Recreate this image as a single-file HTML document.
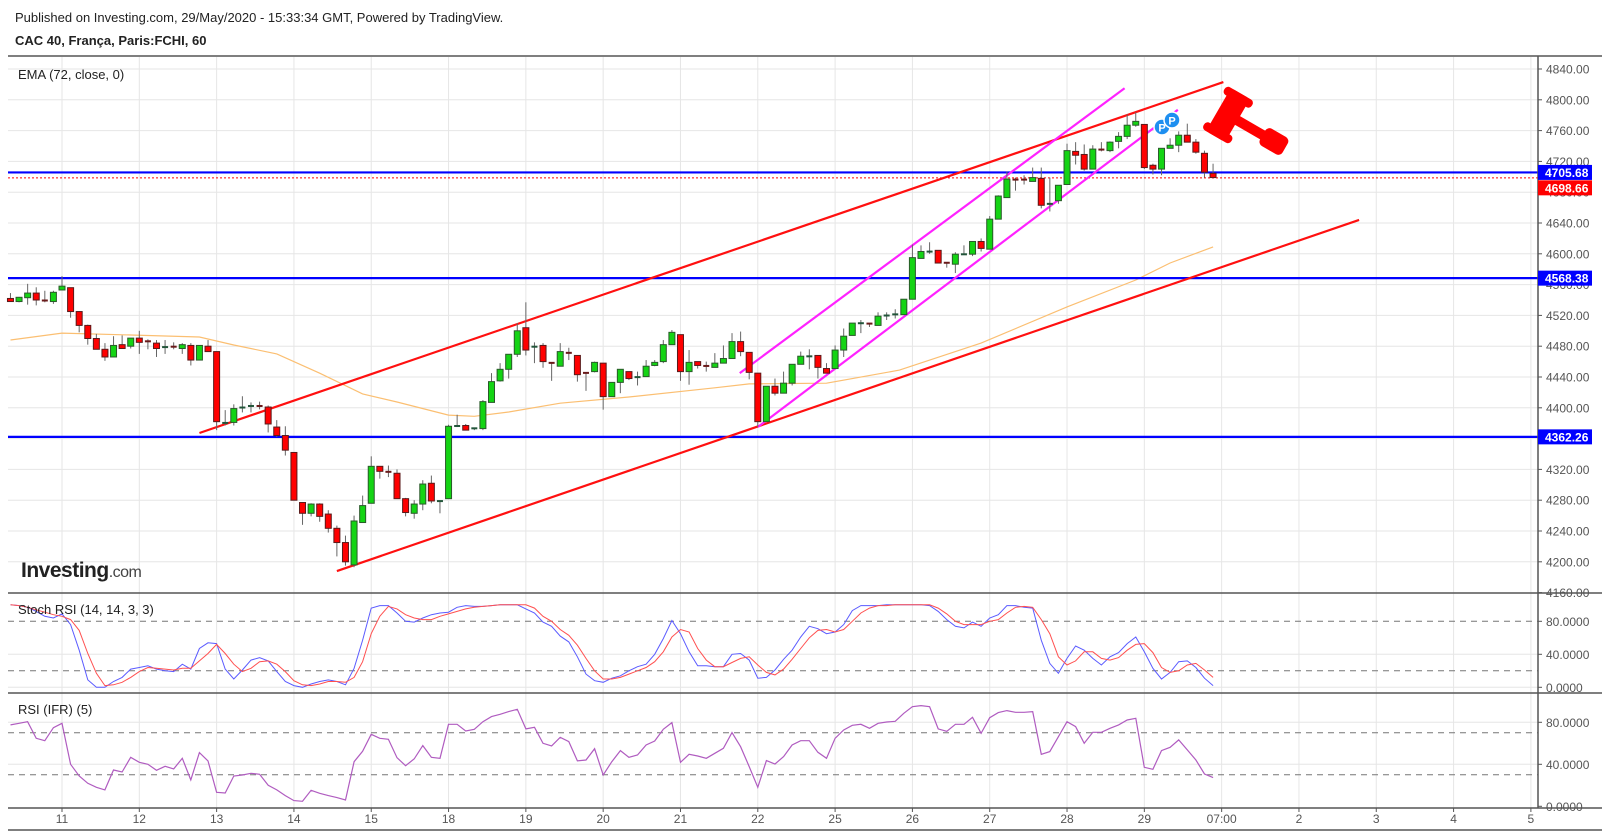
<!DOCTYPE html>
<html><head><meta charset="utf-8"><title>CAC 40 chart</title>
<style>
html,body{margin:0;padding:0;background:#fff;}
body{width:1602px;height:832px;overflow:hidden;font-family:"Liberation Sans",sans-serif;}
svg text{font-family:"Liberation Sans",sans-serif;}
</style></head>
<body>
<svg id="chart" width="1602" height="832" viewBox="0 0 1602 832" xmlns="http://www.w3.org/2000/svg">
<text x="15" y="22" font-size="13" fill="#222">Published on Investing.com, 29/May/2020 - 15:33:34 GMT, Powered by TradingView.</text>
<text x="15" y="45" font-size="13" font-weight="bold" fill="#222">CAC 40, França, Paris:FCHI, 60</text>
<g id="grid"></g>
<g id="drawings"></g>
<g id="candles"></g>
<g id="sub"></g>
<g id="axes"></g>
<text x="18" y="79" font-size="13" fill="#222">EMA (72, close, 0)</text>
<text x="18" y="614" font-size="13" fill="#222">Stoch RSI (14, 14, 3, 3)</text>
<text x="18" y="714" font-size="13" fill="#222">RSI (IFR) (5)</text>
<text x="21" y="577" font-size="21" font-weight="bold" fill="#222" letter-spacing="-0.5">Investing<tspan font-weight="normal" font-size="16" fill="#444">.com</tspan></text>
<g>
<circle cx="1162" cy="127" r="8" fill="#1e8ff0" stroke="#fff" stroke-width="1.5"/>
<text x="1162" y="131.5" font-size="11" font-weight="bold" fill="#fff" text-anchor="middle">P</text>
<circle cx="1172" cy="120" r="8" fill="#1e8ff0" stroke="#fff" stroke-width="1.5"/>
<text x="1172" y="124.5" font-size="11" font-weight="bold" fill="#fff" text-anchor="middle">P</text>
</g>
<g transform="translate(1228,115) rotate(30)" fill="#ff0000">
<rect x="-11" y="-25" width="22" height="50" rx="4"/>
<rect x="-16" y="-25" width="32" height="9" rx="4"/>
<rect x="-16" y="16" width="32" height="9" rx="4"/>
<rect x="8" y="-5" width="40" height="10"/>
<rect x="40" y="-10" width="26" height="20" rx="5"/>
</g>
</svg>
<script>
// ---- data ----
const ohlcOpen = [4542,4538,4543,4549,4540,4538,4553,4556,4525,4507,4490,4476,4466,4482,4480,4490.5,4487,4484,4479,4480,4477,4481,4462,4480,4473,4381,4381,4400,4402,4403,4401,4375,4364,4342,4277,4263,4275,4262,4243.5,4225,4196,4251,4276,4324,4317.5,4315,4282,4263,4275,4302,4279,4282,4377,4377,4372,4373,4407,4435,4450,4469.5,4504,4477,4481,4459,4454,4472,4468,4446,4447,4458,4414.5,4433,4447,4438,4440.5,4455,4460,4482,4495,4447,4460,4455,4452.5,4458,4464,4486,4472,4445,4382,4428,4419,4432,4456.5,4467,4468,4451,4451,4475,4494,4510,4510,4507,4520,4521,4521,4541,4594,4603,4604.5,4589,4586.5,4599.5,4599.5,4616,4606,4645,4673,4697,4697,4694,4698,4665,4669,4690,4733,4729,4710,4736,4734,4746,4752.5,4767,4768,4715,4710,4737,4741,4754,4745,4730.5,4704.5];
const ohlcHigh = [4549,4544,4561,4556.5,4552,4552,4571,4556,4525,4508,4496,4484,4493,4494,4490.5,4500,4489,4488,4488,4485,4484,4484,4481,4488,4473,4397,4404.5,4415,4407,4408,4403,4384,4376,4342,4277,4276,4276,4267,4247,4234,4260,4286,4337,4324,4325,4320,4283,4280,4306,4312,4279.5,4378,4391,4379,4374,4410,4445,4458,4469.5,4510,4537,4485,4484,4459,4484,4478,4468,4446,4460,4458,4433,4450,4447,4447,4462,4462,4488,4501,4495,4475,4460,4460,4471,4481,4497,4499,4472,4445,4428,4438,4447,4456.5,4473,4476,4468,4458,4481,4503,4510,4514,4510,4524,4524,4528,4541,4612,4611,4615,4604.5,4589,4602,4611,4616,4620,4649,4676,4707,4699,4702,4712,4712,4699,4689,4743,4745,4742,4741,4745,4746,4758,4781,4784,4768,4717,4737,4750,4759,4769,4749,4734,4717];
const ohlcLow = [4538,4537,4534,4533,4537,4535,4553,4517,4498,4482,4476,4461,4466,4477,4477,4470,4476,4466,4470,4476,4470,4455,4462,4473,4371,4377,4377,4394,4394,4398,4368,4362,4338,4280,4248,4259,4252,4238,4207,4195,4193,4251,4276,4308,4310,4282,4259,4256,4267,4276,4263,4282,4375,4371,4371,4371,4407,4434,4438,4466,4468,4458,4452,4435,4454,4462,4434,4422,4446,4397.6,4414.5,4419,4436,4429,4440.5,4454,4458,4482,4435,4430,4451,4447,4452.5,4458,4464,4467,4437,4375,4382,4416,4419,4429,4456.5,4450,4438,4445,4451,4466,4494,4497,4505,4507,4514,4516,4521,4541,4594,4600,4588,4582,4575,4599.5,4597,4603,4606,4645,4673,4682,4690,4694,4659,4655,4665,4690,4716,4708,4710,4733,4732,4737,4749,4765,4710,4703,4702,4737,4732,4745,4730,4699,4699];
const ohlcClose = [4538,4543.5,4549,4540,4539,4550,4558,4525,4507,4490,4476,4466,4481,4477,4490.5,4485,4484,4477,4479.5,4477,4482,4462,4481,4473,4382,4381,4399,4401,4403,4401,4379,4364,4345,4280,4263,4275,4259,4243.5,4225,4200,4253,4273,4324,4317.5,4315,4282,4264,4275,4301,4279,4279.5,4376,4377,4371,4374,4408,4434,4450,4469.5,4500,4475,4480,4460,4456.5,4473,4469.5,4443,4445.5,4459,4414.5,4433,4450,4438,4440.5,4454,4459,4482,4498,4447,4459,4455,4452.5,4458,4464,4486,4473,4446,4382,4428,4419,4432,4456.5,4467,4467.5,4452.5,4445,4475,4493,4510,4510.5,4507,4519,4520.5,4522,4541,4595,4603,4603.5,4588,4586.5,4599.5,4600,4616,4607,4645,4675,4697,4694,4694,4699,4663,4665.5,4689,4734,4728,4710,4736,4734,4745,4752.5,4767,4772,4712,4710,4737,4741,4754,4745,4732,4706,4699];
const emaIndex = [0,6,14,22,26,31,36,41,45,51,54,58,64,72,82,86,95,103.5,113,123,131,135,140];
const emaValue = [4488,4497,4494.5,4492,4481.5,4470,4445,4418,4407.5,4390.5,4389,4394.5,4406,4414,4426,4431,4432,4449,4484,4531,4566,4588,4609];
const stochK = [100,99,97,92,86,84,89,76,45,9,0,0,7,12,22,24,26,22,20,19,28,22,47,54,53,22,10,21,33,36,32,19,7,2,0,4,7,9,7,3,23,57,96,99,99,90,80,79,84,88,90,91,97,99,98,98,99,100,100,100,95,90,79,74,62,55,37,16,8,6,11,14,20,25,28,40,59,81,65,43,26,26,25,25,40,41,33,11,12,21,34,45,61,74,71,65,67,76,93,99,99,99,100,100,100,100,100,99,92,82,74,72,79,74,84,88,99,99,97,96,57,29,17,35,50,45,35,27,37,42,53,61,43,23,10,18,31,32,24,11,2];
const stochD = [100,99,97,94,91,88,86,82,69,41,17,2,3,6,12,19,24,23,22,21,23,23,32,41,52,41,28,19,23,31,32,28,19,8,3,2,4,7,7,6,12,31,65,86,98,95,88,84,82,82,86,89,92,95,97,98,99,100,100,100,100,96,86,80,70,63,51,35,20,10,10,12,16,20,24,31,43,61,70,67,47,33,25,25,30,35,37,27,18,15,22,34,47,60,69,70,67,70,80,90,96,99,99,100,100,100,100,100,96,89,80,76,76,76,80,82,90,97,98,97,82,65,37,27,32,43,43,35,33,36,45,52,53,42,24,18,20,27,29,21,12];
const rsiValues = [77.5,79,80.6,64.8,62.5,74.9,79,40,28.9,21.9,18.1,15.6,34.6,32.7,46.7,41.9,40,34.3,38.1,35.6,45.7,25.1,51.1,43.2,13.3,12.7,28.9,29.8,31.4,30.5,20,15.6,10.2,5.4,4.8,15.2,12.4,10.2,8.3,6,42.5,52.4,68.6,64.8,63.8,46.3,38.7,45.1,57.8,46.7,45.7,78.1,78.1,71.7,73.3,80.6,85.4,87.6,90.2,92.4,73.7,75.2,60,57.5,65.7,61.6,43.2,44.1,54.9,29.8,42.5,53,46.7,48.9,58.4,62.2,73.3,79.7,41.9,49.5,47.9,45.7,50.5,55.2,70.2,56.8,37.8,18.1,43.5,40.3,47.3,58.4,62.5,62.5,51.4,45.7,64.8,72.7,77.1,78.1,74.3,79,80.3,81,88.6,94.9,95.9,94.9,73.7,71.4,78.1,78.1,84.8,69.5,84.4,89.2,91.1,89.5,89.5,90.2,49.5,52.1,66.3,80.6,75.9,60,70.5,70.5,74.3,77.5,82.2,83.8,37.1,35.2,53,56.2,63.2,53.7,44.1,30.8,27.3];
const priceTicks = [4840,4800,4760,4720,4680,4640,4600,4560,4520,4480,4440,4400,4360,4320,4280,4240,4200,4160];
const dateLabels = ["11","12","13","14","15","18","19","20","21","22","25","26","27","28","29","07:00","2","3","4","5"];
const dateIndex = [6,15,24,33,42,51,60,69,78,87,96,105,114,123,132,141,150,159,168,177];
const levelPrices = [4705.68,4568.38,4362.26];
const lastPrice = 4698.66;
const redTrendA = [[22,4367.3],[141.2,4823]];
const redTrendB = [[38,4188],[157,4644]];
const magentaA = [[84.9,4445],[129.7,4815]];
const magentaB = [[87,4375],[135.9,4787]];
const stochTicks = [80,40,0];
const rsiTicks = [80,40,0];

// ---- axes ----
const X0 = 10.46, STEP = 8.59;
const xAt = i => X0 + i*STEP;
const yPrice = p => 69 + (4840-p)*0.77;
const yStoch = v => 687.3 - v*0.825;
const yRsi = v => 806.3 - v*1.05;
const PANE_L = 8, PANE_R = 1538;
const NS = "http://www.w3.org/2000/svg";
function mk(tag, attrs, parent){const e=document.createElementNS(NS,tag);for(const k in attrs)e.setAttribute(k,attrs[k]);parent.appendChild(e);return e;}
const grid=document.getElementById('grid'), dr=document.getElementById('drawings'), cg=document.getElementById('candles'), sub=document.getElementById('sub'), ax=document.getElementById('axes');

// grid
priceTicks.forEach(p=>{const y=yPrice(p); if(y>57&&y<592){const l=mk('line',{x1:PANE_L,x2:PANE_R,y1:y,y2:y,stroke:'#e6e6e6','stroke-width':1},grid);

}});
dateIndex.forEach(i=>{const x=xAt(i);const l=mk('line',{x1:x,x2:x,y1:57,y2:808,stroke:'#e6e6e6','stroke-width':1},grid);

});
[40,0].forEach(v=>{const l=mk('line',{x1:PANE_L,x2:PANE_R,y1:yStoch(v),y2:yStoch(v),stroke:'#e6e6e6'},grid);

});
[80,40].forEach(v=>{const l=mk('line',{x1:PANE_L,x2:PANE_R,y1:yRsi(v),y2:yRsi(v),stroke:'#e6e6e6'},grid);

});

// ema
let pts=emaIndex.map((i,j)=>xAt(i).toFixed(1)+','+yPrice(emaValue[j]).toFixed(1)).join(' ');
const ema=mk('polyline',{points:pts,fill:'none',stroke:'#fbbf72','stroke-width':1.2},dr);



// horizontal levels
levelPrices.forEach(p=>{const y=yPrice(p);const l=mk('line',{x1:PANE_L,x2:PANE_R,y1:y,y2:y,stroke:'#0000ff','stroke-width':2.2},dr);

});
const lp=mk('line',{x1:PANE_L,x2:PANE_R,y1:yPrice(lastPrice),y2:yPrice(lastPrice),stroke:'#ff0000','stroke-width':1,'stroke-dasharray':'2,2'},dr);



// trend lines
[[redTrendA,'#ff1010','red-channel-upper'],[redTrendB,'#ff1010','red-channel-lower'],[magentaA,'#ff22ff','magenta-channel-upper'],[magentaB,'#ff22ff','magenta-channel-lower']].forEach(t=>{
const a=t[0];const l=mk('line',{x1:xAt(a[0][0]),y1:yPrice(a[0][1]),x2:xAt(a[1][0]),y2:yPrice(a[1][1]),stroke:t[1],'stroke-width':2.2},dr);

});

// candles
ohlcOpen.forEach((o,i)=>{const c=ohlcClose[i],h=ohlcHigh[i],lo=ohlcLow[i];const x=xAt(i);
const up=c>=o;const g=mk('g',{},cg);


mk('line',{x1:x,x2:x,y1:yPrice(h),y2:yPrice(lo),stroke:'#666','stroke-width':1},g);
const yt=yPrice(Math.max(o,c)),yb=yPrice(Math.min(o,c));const bh=Math.max(yb-yt,1);
if(bh<2.5){mk('rect',{x:x-3,y:yt-0.5,width:6,height:2,fill:up?'#22553a':'#6a1a1a'},g);}
else mk('rect',{x:x-3,y:yt,width:6,height:bh,fill:up?'#14d414':'#ff0000',stroke:up?'#2a5a2a':'#5a1a1a','stroke-width':1},g);});

// stoch pane
[80,20].forEach(v=>{const l=mk('line',{x1:PANE_L,x2:PANE_R,y1:yStoch(v),y2:yStoch(v),stroke:'#777','stroke-dasharray':'6,5','stroke-width':1},sub);

});
const kLine=mk('polyline',{points:stochK.map((v,i)=>xAt(i).toFixed(1)+','+yStoch(v).toFixed(1)).join(' '),fill:'none',stroke:'#5b5bff','stroke-width':1},sub);


const dLine=mk('polyline',{points:stochD.map((v,i)=>xAt(i).toFixed(1)+','+yStoch(v).toFixed(1)).join(' '),fill:'none',stroke:'#ff5050','stroke-width':1},sub);


// rsi pane
[70,30].forEach(v=>{const l=mk('line',{x1:PANE_L,x2:PANE_R,y1:yRsi(v),y2:yRsi(v),stroke:'#777','stroke-dasharray':'6,5','stroke-width':1},sub);

});
const rLine=mk('polyline',{points:rsiValues.map((v,i)=>xAt(i).toFixed(1)+','+yRsi(v).toFixed(1)).join(' '),fill:'none',stroke:'#b05cc0','stroke-width':1.2},sub);



// frame & separators
[[56,56],[593,593],[693,693],[808,808],[830,830]].forEach(v=>{const l=mk('line',{x1:PANE_L,x2:1602,y1:v[0],y2:v[1],stroke:'#555','stroke-width':1.5},ax);

});
const va=mk('line',{x1:PANE_R,x2:PANE_R,y1:56,y2:808,stroke:'#555','stroke-width':1.5},ax);


// price ticks
priceTicks.forEach(p=>{const y=yPrice(p);if(y<56||y>598)return;
mk('line',{x1:PANE_R,x2:PANE_R+4,y1:y,y2:y,stroke:'#555'},ax);
const t=mk('text',{x:1546,y:y+4.5,'font-size':12,fill:'#555'},ax);t.textContent=p.toFixed(2);

});
stochTicks.forEach(v=>{const y=yStoch(v);mk('line',{x1:PANE_R,x2:PANE_R+4,y1:y,y2:y,stroke:'#555'},ax);
const t=mk('text',{x:1546,y:y+4.5,'font-size':12,fill:'#555'},ax);t.textContent=v.toFixed(4);

});
rsiTicks.forEach(v=>{const y=yRsi(v);mk('line',{x1:PANE_R,x2:PANE_R+4,y1:y,y2:y,stroke:'#555'},ax);
const t=mk('text',{x:1546,y:y+4.5,'font-size':12,fill:'#555'},ax);t.textContent=v.toFixed(4);

});
// date labels
dateLabels.forEach((d,j)=>{const x=xAt(dateIndex[j]);
mk('line',{x1:x,x2:x,y1:808,y2:812,stroke:'#555'},ax);
const t=mk('text',{x:x,y:823,'font-size':12,fill:'#555','text-anchor':'middle'},ax);t.textContent=d;

});
// price boxes
function box(p,col,name){const y=yPrice(p);const g=mk('g',{},ax);


mk('rect',{x:PANE_R,y:y-7.5,width:54,height:15,fill:col},g);
const t=mk('text',{x:1545,y:y+4.5,'font-size':12,'font-weight':'bold',fill:'#fff'},g);t.textContent=p.toFixed(2);}
levelPrices.forEach(p=>box(p,'#0000ff','level-price-label'));
(function(){const y=yPrice(lastPrice)+10;const g=mk('g',{},ax);


mk('rect',{x:PANE_R,y:y-7.5,width:54,height:15,fill:'#ff0000'},g);
const t=mk('text',{x:1545,y:y+4.5,'font-size':12,'font-weight':'bold',fill:'#fff'},g);t.textContent=lastPrice.toFixed(2);})();
</script>
</body></html>
